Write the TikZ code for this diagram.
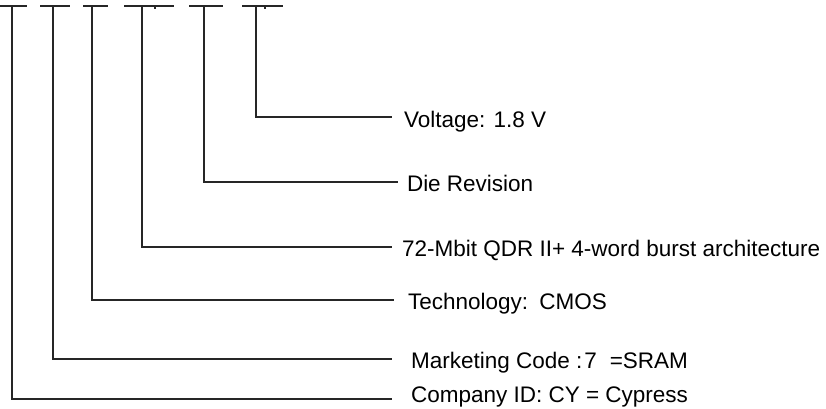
\documentclass[tikz,border=0pt]{standalone}
\usepackage{fontspec}
\setmainfont{Liberation Sans}
\begin{document}
\begin{tikzpicture}[x=1pt,y=-1pt,
  lead/.style={draw=black!85,line width=1.1pt},
  lbl/.style={anchor=base west,inner sep=0pt,outer sep=0pt,font=\fontsize{22.5}{26}\selectfont}]
\useasboundingbox (0,0) rectangle (826,408);
% top bars
\foreach \a/\b in {0/27,40/70,83/108,124/174,189/223,242/283}
  \draw[lead] (\a,6) -- (\b,6);
\draw[lead] (155,6) -- (155,9);
\draw[lead] (265,6) -- (265,9);
% tops of the leads
\coordinate (t1) at (12,6);
\coordinate (t2) at (53,6);
\coordinate (t3) at (92,6);
\coordinate (t4) at (142,6);
\coordinate (t5) at (204,6);
\coordinate (t6) at (256,6);
% ends of the leads
\coordinate (e1) at (392,399);
\coordinate (e2) at (392,359);
\coordinate (e3) at (394,300);
\coordinate (e4) at (392,247);
\coordinate (e5) at (398,182);
\coordinate (e6) at (392,117);
% labels
\node[lbl] (l6) at (404,127) {Voltage: 1.8 V};
\node[lbl] (l5) at (407,191) {Die Revision};
\node[lbl] (l4) at (402,256) {72-Mbit QDR II+ 4-word burst architecture};
\node[lbl] (l3) at (408,309) {Technology:\hspace{3pt} CMOS};
\node[lbl] (l2) at (411,368) {Marketing Code :\hspace{2pt}7\hspace{13pt}=SRAM};
\node[lbl] (l1) at (411,402) {Company ID: CY = Cypress};
% leads
\foreach \i in {1,...,6}
  \draw[lead] (t\i) |- (e\i);
\end{tikzpicture}
\end{document}
